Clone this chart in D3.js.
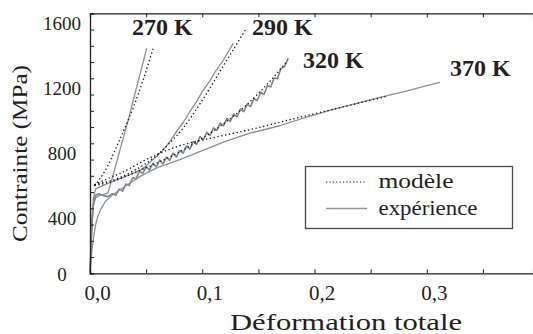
<!DOCTYPE html>
<html><head><meta charset="utf-8">
<script src="https://cdn.jsdelivr.net/npm/d3@7"></script>
<style>html,body{margin:0;padding:0;background:#fff;}svg{display:block;}
svg text{font-family:"Liberation Serif","Tinos","Times New Roman","DejaVu Serif",serif;}</style>
</head><body>
<script>
// ---- data ----
const yTicks = [0, 400, 800, 1200, 1600];
const xTicks = [0, 0.1, 0.2, 0.3];
const xTickLabels = ["0,0", "0,1", "0,2", "0,3"];
const tempLabels = ["270 K", "290 K", "320 K", "370 K"];
const legendLabels = ["modèle", "expérience"];

// experiment (strain, stress MPa)
const exp270 = [[0,0],[0.001,170],[0.002,330],[0.003,420],[0.005,465],[0.008,478],[0.012,485],[0.016,495],[0.02,590],[0.025,716],[0.03,842],[0.035,968],[0.04,1105],[0.045,1236],[0.0505,1385]];
const exp290 = [[0,0],[0.001,200],[0.002,370],[0.003,460],[0.005,520],[0.01,535],[0.02,565],[0.03,592],[0.04,620],[0.0457,638],[0.05,662],[0.055,694],[0.06,724],[0.0665,769],[0.072,820],[0.078,882],[0.083,928],[0.089,995],[0.095,1058],[0.1,1118],[0.106,1176],[0.112,1245],[0.118,1302],[0.123,1362],[0.1276,1415]];
const exp320 = [[0,0],[0.001,180],[0.002,330],[0.003,420],[0.005,480],[0.008,490],[0.012,478],[0.016,472],
 [0.020,490],[0.023,480],[0.026,518],[0.029,506],[0.032,549],[0.035,541],[0.038,588],[0.041,580],[0.044,628],[0.047,615],
 [0.050,657],[0.053,635],[0.056,677],[0.059,654],[0.062,696],[0.065,673],[0.068,715],[0.071,695],[0.074,739],[0.077,716],
 [0.080,757],[0.083,739],[0.086,784],[0.089,764],[0.092,811],[0.095,794],[0.098,841],[0.101,823],[0.104,868],[0.107,849],
 [0.110,895],[0.113,880],[0.116,924],[0.119,907],[0.122,953],[0.125,934],[0.128,980],[0.131,963],[0.134,1011],[0.137,995],
 [0.140,1041],[0.143,1026],[0.146,1076],[0.149,1063],[0.152,1114],[0.155,1100],[0.158,1155],[0.161,1147],[0.164,1202],
 [0.167,1198],[0.170,1260],[0.173,1269],[0.1766,1323]];
const exp370 = [[0,0],[0.001,90],[0.002,160],[0.003,210],[0.005,300],[0.007,350],[0.01,400],[0.014,445],[0.02,482],[0.03,530],[0.045,598],[0.06,650],[0.08,700],[0.1,755],[0.12,810],[0.1425,862],[0.169,908],[0.19,955],[0.2137,1003],[0.24,1050],[0.26,1085],[0.28,1118],[0.3,1155],[0.3117,1175]];

// model
const mod270 = [[0.004,540],[0.0134,630],[0.025,800],[0.0383,1015],[0.0564,1385]];
const mod290 = [[0.004,545],[0.025,585],[0.04,635],[0.0576,715],[0.07,795],[0.0816,882],[0.1,1065],[0.12,1290],[0.1386,1500]];
const mod320 = [[0.004,540],[0.02,565],[0.04,620],[0.06,680],[0.08,748],[0.1,830],[0.12,925],[0.14,1040],[0.16,1180],[0.175,1300]];
const mod370 = [[0.004,545],[0.015,580],[0.03,625],[0.05,700],[0.08,785],[0.11,835],[0.14,880],[0.178,945],[0.2137,1005],[0.24,1048],[0.265,1090]];

const experiments = [exp270, exp290, exp320, exp370];
const models = [mod270, mod290, mod320, mod370];

// ---- drawing ----
const W = 533, H = 334;
const svg = d3.select("body").append("svg").attr("width", W).attr("height", H);
const ink = "#231f20";
const x = d3.scaleLinear().domain([0, 0.3946]).range([90, 533]);
const y = d3.scaleLinear().domain([0, 1600]).range([273.3, 13.3]);

const line = d3.line().x(d => x(d[0])).y(d => y(d[1]));

// experiments
experiments.forEach((s, i) => {
  svg.append("path").datum(s).attr("d", line)
    .attr("fill", "none")
    .attr("stroke", i === 2 ? "#7f858d" : "#8a9098")
    .attr("stroke-width", i === 2 ? 1.6 : 1.3)
    .attr("stroke-linejoin", "round");
});
// models
models.forEach(s => {
  svg.append("path").datum(s).attr("d", d3.line().curve(d3.curveMonotoneX).x(d => x(d[0])).y(d => y(d[1])))
    .attr("fill", "none").attr("stroke", "#111")
    .attr("stroke-width", 1.3).attr("stroke-dasharray", "1.3,2.6");
});

// axes
const minorX = d3.range(0, 0.40, 0.05);
const gB = svg.append("g").attr("transform", `translate(0,${y(0)})`)
  .call(d3.axisBottom(x).tickValues(minorX).tickSize(-4).tickFormat(""));
const gT = svg.append("g").attr("transform", `translate(0,${y(1600)})`)
  .call(d3.axisTop(x).tickValues(minorX).tickSize(-4).tickFormat(""));
const gL = svg.append("g").attr("transform", `translate(${x(0)},0)`)
  .call(d3.axisLeft(y).tickValues(d3.range(0, 1601, 100)).tickSize(-4).tickFormat(""));
[gB, gT, gL].forEach(g => {
  g.select(".domain").attr("stroke", ink).attr("stroke-width", 1.3);
  g.selectAll(".tick line").attr("stroke", ink).attr("stroke-width", 1);
});

// x tick labels
svg.append("g").selectAll("text").data(xTicks).join("text")
  .attr("x", d => x(d) + 7.5).attr("y", 300)
  .attr("text-anchor", "middle").attr("font-size", 21)
  .attr("fill", ink).text((d, i) => xTickLabels[i]);

// y tick labels
svg.append("g").selectAll("text").data(yTicks).join("text")
  .attr("x", 62).attr("y", d => y(d) + (d === 0 ? 1.5 : 10.5))
  .attr("dy", "0.35em")
  .attr("text-anchor", "middle").attr("font-size", 19)
  .attr("fill", ink).text(d => d);

// axis titles
svg.append("text").attr("x", 230).attr("y", 330)
  .attr("font-size", 23).attr("fill", ink)
  .attr("textLength", 232).attr("lengthAdjust", "spacingAndGlyphs")
  .text("Déformation totale");
svg.append("text").attr("transform", "translate(27,242) rotate(-90)")
  .attr("font-size", 21).attr("fill", ink)
  .attr("textLength", 177).attr("lengthAdjust", "spacingAndGlyphs")
  .text("Contrainte (MPa)");

// temperature labels (anchored near curve ends)
const tempPos = [[132, 35], [252, 35], [303, 68], [450, 76]];
svg.append("g").selectAll("text").data(tempLabels).join("text")
  .attr("x", (d, i) => tempPos[i][0]).attr("y", (d, i) => tempPos[i][1])
  .attr("font-weight", "bold").attr("font-size", 24)
  .attr("fill", ink).text(d => d);

// legend
const lg = svg.append("g");
lg.append("rect").attr("x", 305.5).attr("y", 166.5).attr("width", 207).attr("height", 62)
  .attr("fill", "#fff").attr("stroke", "#4a4a4a").attr("stroke-width", 1.3);
lg.append("line").attr("x1", 326).attr("x2", 367).attr("y1", 182).attr("y2", 182)
  .attr("stroke", "#111").attr("stroke-width", 1.2).attr("stroke-dasharray", "1.2,2.2");
lg.append("line").attr("x1", 326).attr("x2", 367).attr("y1", 208.5).attr("y2", 208.5)
  .attr("stroke", "#8a96aa").attr("stroke-width", 1.4);
const lgW = [75, 99];
lg.selectAll("text.lt").data(legendLabels).join("text").attr("class", "lt")
  .attr("x", 378.5).attr("y", (d, i) => i === 0 ? 188 : 215)
  .attr("font-size", 20).attr("fill", ink)
  .attr("textLength", (d, i) => lgW[i]).attr("lengthAdjust", "spacingAndGlyphs")
  .text(d => d);
</script>
</body></html>
